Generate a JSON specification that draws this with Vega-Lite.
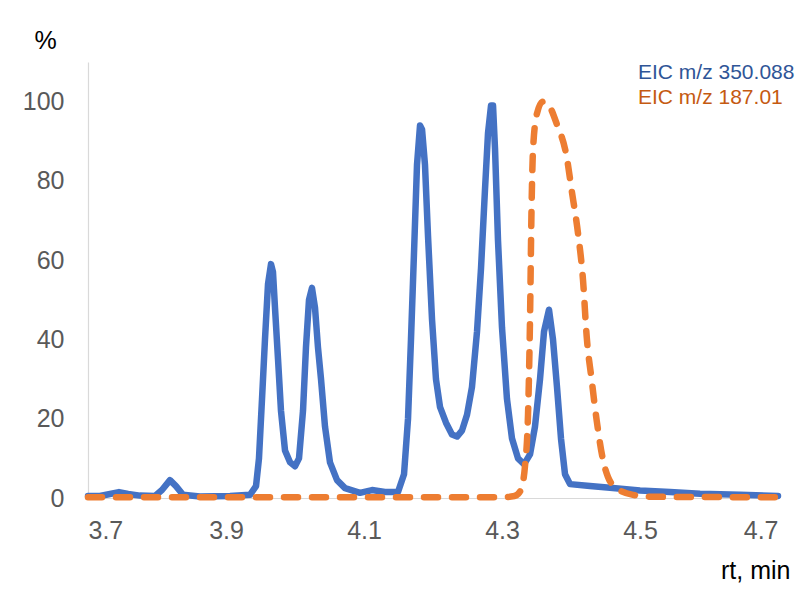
{
  "$schema": "https://vega.github.io/schema/vega-lite/v6.json",
  "width": 690,
  "height": 436,
  "autosize": {"type": "none"},
  "padding": {"left": 88, "top": 62, "right": 32, "bottom": 99},
  "background": "white",
  "config": {"view": {"stroke": null}, "font": "Liberation Sans"},
  "datasets": {
    "blue": [
      {"rt": 3.7, "pct": 0.5}, {"rt": 3.7174, "pct": 0.5}, {"rt": 3.7319, "pct": 1.0}, {"rt": 3.7449, "pct": 1.5},
      {"rt": 3.758, "pct": 1.0}, {"rt": 3.7754, "pct": 0.6}, {"rt": 3.7971, "pct": 0.5}, {"rt": 3.8072, "pct": 2.0},
      {"rt": 3.8188, "pct": 4.5}, {"rt": 3.8275, "pct": 3.0}, {"rt": 3.8377, "pct": 0.8}, {"rt": 3.8623, "pct": 0.4},
      {"rt": 3.9058, "pct": 0.5}, {"rt": 3.9348, "pct": 0.8}, {"rt": 3.9435, "pct": 3}, {"rt": 3.9478, "pct": 10},
      {"rt": 3.9522, "pct": 25}, {"rt": 3.9565, "pct": 40}, {"rt": 3.9609, "pct": 54}, {"rt": 3.9652, "pct": 59},
      {"rt": 3.9681, "pct": 57}, {"rt": 3.971, "pct": 48}, {"rt": 3.9754, "pct": 35}, {"rt": 3.9797, "pct": 22},
      {"rt": 3.9855, "pct": 12}, {"rt": 3.9928, "pct": 9}, {"rt": 4.0, "pct": 8}, {"rt": 4.0058, "pct": 10},
      {"rt": 4.0116, "pct": 22}, {"rt": 4.0159, "pct": 38}, {"rt": 4.0203, "pct": 50}, {"rt": 4.0246, "pct": 53},
      {"rt": 4.029, "pct": 48}, {"rt": 4.0333, "pct": 38}, {"rt": 4.0377, "pct": 30}, {"rt": 4.0435, "pct": 18},
      {"rt": 4.0507, "pct": 9}, {"rt": 4.0609, "pct": 4.5}, {"rt": 4.0725, "pct": 2.5}, {"rt": 4.0942, "pct": 1.3},
      {"rt": 4.1116, "pct": 2.0}, {"rt": 4.1304, "pct": 1.5}, {"rt": 4.1493, "pct": 1.5}, {"rt": 4.158, "pct": 6},
      {"rt": 4.1638, "pct": 20}, {"rt": 4.1681, "pct": 40}, {"rt": 4.1725, "pct": 62}, {"rt": 4.1768, "pct": 84},
      {"rt": 4.1812, "pct": 94}, {"rt": 4.1841, "pct": 93}, {"rt": 4.1884, "pct": 84}, {"rt": 4.1928, "pct": 66},
      {"rt": 4.1986, "pct": 45}, {"rt": 4.2043, "pct": 30}, {"rt": 4.2101, "pct": 23}, {"rt": 4.2188, "pct": 19},
      {"rt": 4.2275, "pct": 16}, {"rt": 4.2348, "pct": 15.5}, {"rt": 4.242, "pct": 17}, {"rt": 4.2493, "pct": 21},
      {"rt": 4.2565, "pct": 28}, {"rt": 4.2638, "pct": 42}, {"rt": 4.2696, "pct": 58}, {"rt": 4.2754, "pct": 78},
      {"rt": 4.2797, "pct": 92}, {"rt": 4.2841, "pct": 99}, {"rt": 4.287, "pct": 99}, {"rt": 4.2899, "pct": 88},
      {"rt": 4.2942, "pct": 65}, {"rt": 4.3, "pct": 43}, {"rt": 4.3072, "pct": 25}, {"rt": 4.3145, "pct": 15},
      {"rt": 4.3232, "pct": 10}, {"rt": 4.3319, "pct": 8.5}, {"rt": 4.3406, "pct": 11}, {"rt": 4.3478, "pct": 18},
      {"rt": 4.3551, "pct": 30}, {"rt": 4.3609, "pct": 42}, {"rt": 4.3681, "pct": 47.5}, {"rt": 4.3739, "pct": 40},
      {"rt": 4.3797, "pct": 28}, {"rt": 4.3855, "pct": 15}, {"rt": 4.3913, "pct": 6}, {"rt": 4.3986, "pct": 3.5},
      {"rt": 4.4275, "pct": 3}, {"rt": 4.4565, "pct": 2.6}, {"rt": 4.5, "pct": 1.9}, {"rt": 4.5435, "pct": 1.5},
      {"rt": 4.587, "pct": 1.1}, {"rt": 4.645, "pct": 0.8}, {"rt": 4.7, "pct": 0.5}
    ],
    "orange": [
      {"rt": 3.7, "pct": 0.2}, {"rt": 3.9, "pct": 0.2}, {"rt": 4.1, "pct": 0.2}, {"rt": 4.3, "pct": 0.2},
      {"rt": 4.318, "pct": 0.5}, {"rt": 4.3232, "pct": 1}, {"rt": 4.329, "pct": 3}, {"rt": 4.3333, "pct": 8},
      {"rt": 4.3377, "pct": 21}, {"rt": 4.3406, "pct": 45}, {"rt": 4.3428, "pct": 73}, {"rt": 4.345, "pct": 88},
      {"rt": 4.3507, "pct": 97}, {"rt": 4.3594, "pct": 100}, {"rt": 4.366, "pct": 99.5}, {"rt": 4.3793, "pct": 94.4},
      {"rt": 4.3938, "pct": 86}, {"rt": 4.401, "pct": 77.6}, {"rt": 4.41, "pct": 67}, {"rt": 4.4174, "pct": 55},
      {"rt": 4.4228, "pct": 40.6}, {"rt": 4.43, "pct": 29.7}, {"rt": 4.4372, "pct": 19.6}, {"rt": 4.4464, "pct": 9.6},
      {"rt": 4.4536, "pct": 5.3}, {"rt": 4.4638, "pct": 2.8}, {"rt": 4.4899, "pct": 0.8}, {"rt": 4.52, "pct": 0.3},
      {"rt": 4.7, "pct": 0.2}
    ]
  },
  "encoding": {
    "x": {
      "field": "rt", "type": "quantitative",
      "scale": {"domain": [3.7, 4.7], "nice": false, "zero": false},
      "axis": {
        "values": [3.7, 3.9, 4.1, 4.3, 4.5, 4.7], "format": ".1f",
        "labelFontSize": 25, "labelColor": "#595959", "labelPadding": 20,
        "ticks": false, "grid": false, "domainColor": "#D9D9D9", "domainWidth": 1.2,
        "title": "rt, min", "titleFontSize": 25, "titleFontWeight": "normal", "titleColor": "#000000",
        "titleX": 702, "titleY": 72, "titleAlign": "right", "titleBaseline": "middle"
      }
    },
    "y": {
      "field": "pct", "type": "quantitative",
      "scale": {"domain": [0, 110], "nice": false},
      "axis": {
        "values": [0, 20, 40, 60, 80, 100],
        "labelFontSize": 25, "labelColor": "#595959", "labelPadding": 24,
        "ticks": false, "grid": false, "domainColor": "#D9D9D9", "domainWidth": 1.2,
        "title": "%", "titleFontSize": 25, "titleFontWeight": "normal", "titleColor": "#000000",
        "titleAngle": 0, "titleX": -43, "titleY": -22, "titleAlign": "center", "titleBaseline": "middle"
      }
    }
  },
  "layer": [
    {
      "data": {"name": "blue"},
      "mark": {"type": "line", "strokeWidth": 6.5, "strokeJoin": "round", "strokeCap": "round"},
      "encoding": {
        "color": {
          "datum": "EIC m/z 350.088",
          "scale": {"range": ["#4472C4"]},
          "legend": {
            "title": null, "orient": "none", "legendX": 529, "legendY": 0, "padding": 0,
            "symbolSize": 0, "symbolOpacity": 0, "symbolStrokeWidth": 0, "labelOffset": 0,
            "labelFontSize": 21, "labelColor": "#2F5597", "labelLimit": 300
          }
        }
      }
    },
    {
      "data": {"name": "orange"},
      "mark": {"type": "line", "strokeWidth": 6.5, "strokeDash": [14, 14], "strokeCap": "round", "interpolate": "monotone"},
      "encoding": {
        "color": {
          "datum": "EIC m/z 187.01",
          "scale": {"range": ["#ED7D31"]},
          "legend": {
            "title": null, "orient": "none", "legendX": 529, "legendY": 25, "padding": 0,
            "symbolSize": 0, "symbolOpacity": 0, "symbolStrokeWidth": 0, "labelOffset": 0,
            "labelFontSize": 21, "labelColor": "#C55A11", "labelLimit": 300
          }
        }
      }
    }
  ],
  "resolve": {"scale": {"color": "independent"}, "legend": {"color": "independent"}}
}
